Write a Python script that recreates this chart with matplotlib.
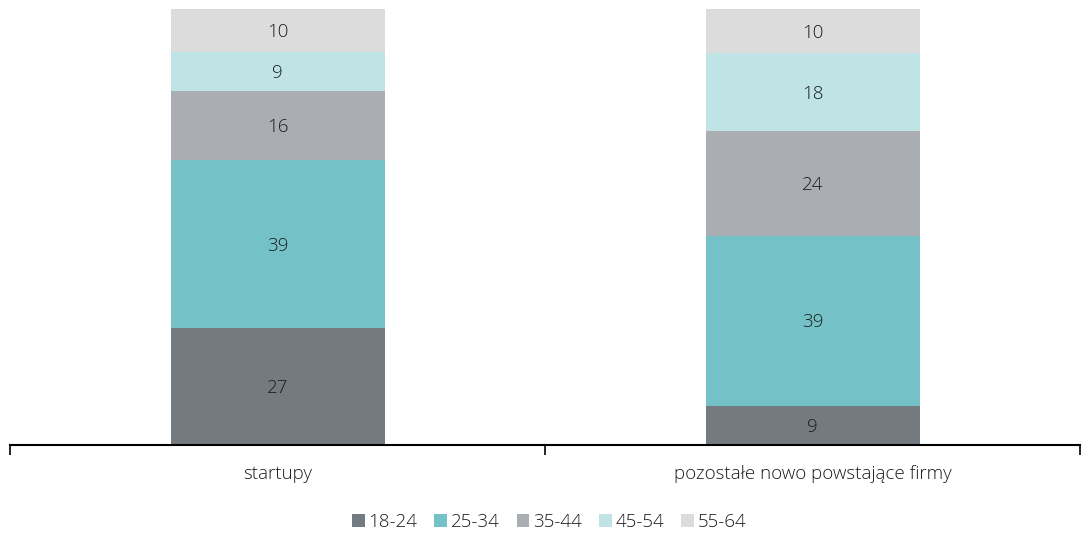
import numpy as np
import matplotlib.pyplot as plt

plt.rcParams['font.family'] = ['Open Sans', 'DejaVu Sans']
plt.rcParams['font.weight'] = 'light'

categories = ['startupy', 'pozostałe nowo powstające firmy']
age_groups = ['18-24', '25-34', '35-44', '45-54', '55-64']
shares = {
    '18-24': [27, 9],
    '25-34': [39, 39],
    '35-44': [16, 24],
    '45-54': [9, 18],
    '55-64': [10, 10],
}
colors = ['#737a80', '#74c2c7', '#aaaeb2', '#c0e4e6', '#dcdcdc']

values = np.array([shares[g] for g in age_groups], dtype=float)
# 100% stacked: rescale each column so it fills the axis
pct = values / values.sum(axis=0) * 100

fig = plt.figure(figsize=(10.82, 5.34), dpi=100)
ax = fig.add_axes([10 / 1082, 89 / 534, 1070 / 1082, 436 / 534])

x = np.arange(len(categories))
bottom = np.zeros(len(categories))
text_color = '#1c1c1c'
fs = 13.5
for i, g in enumerate(age_groups):
    ax.bar(x, pct[i], 0.4, bottom=bottom, color=colors[i], label=g, linewidth=0)
    for j in range(len(categories)):
        ax.text(x[j], bottom[j] + pct[i][j] / 2 - 0.4, f"{values[i][j]:.0f}",
                ha='center', va='center', fontsize=fs, color=text_color)
    bottom += pct[i]

ax.set_xlim(-0.5, 1.5)
ax.set_ylim(0, 100)
ax.set_yticks([])
for s in ['top', 'right', 'left']:
    ax.spines[s].set_visible(False)
ax.spines['bottom'].set_linewidth(1.5)
ax.spines['bottom'].set_color('black')

ax.set_xticks([-0.5, 0.5, 1.5])
ax.set_xticklabels([])
ax.tick_params(axis='x', length=7, width=1.2, color='black')
for j, c in enumerate(categories):
    ax.text(x[j], -6.6, c, ha='center', va='center', fontsize=fs, color=text_color)

fig.legend(loc='center', bbox_to_anchor=(549 / 1082, 1 - 522 / 534), ncol=5,
           frameon=False, fontsize=fs, handlelength=0.68, handleheight=0.68,
           handletextpad=0.2, columnspacing=0.9, labelcolor=text_color)

fig.savefig('out.png', dpi=100)
